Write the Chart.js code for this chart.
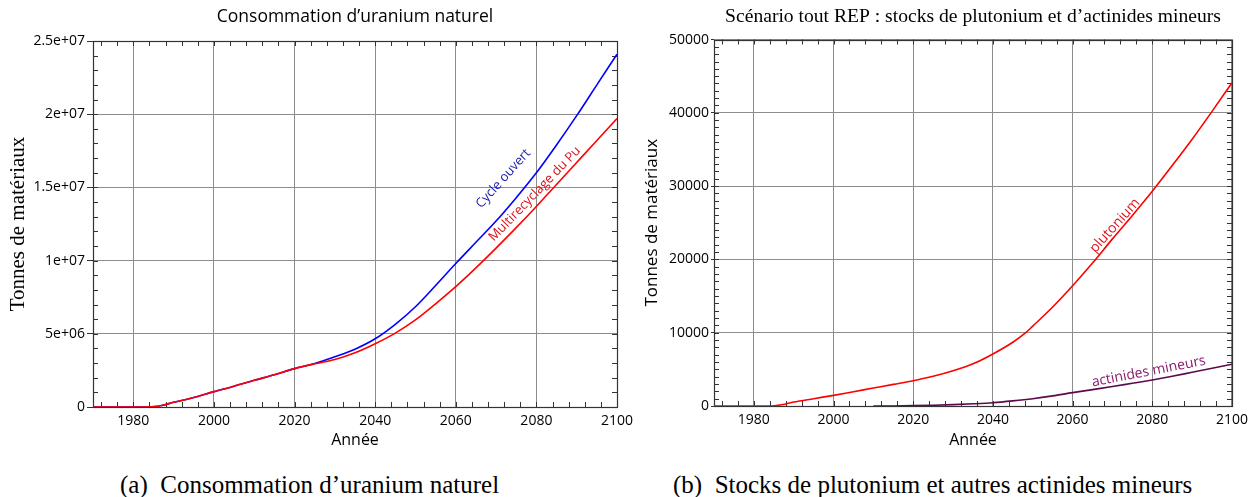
<!DOCTYPE html>
<html><head><meta charset="utf-8">
<script src="https://cdn.jsdelivr.net/npm/chart.js@4/dist/chart.umd.min.js"></script>
<style>
html,body{margin:0;padding:0;background:#fff;}
body{width:1254px;height:497px;position:relative;overflow:hidden;}
#ca{position:absolute;left:0;top:0;}
#cb{position:absolute;left:630px;top:0;}
.cap{position:absolute;top:470px;font:25px "Liberation Serif","Times New Roman",serif;color:#000;white-space:pre;line-height:30px;}
</style>
</head><body>
<canvas id="ca" width="645" height="455"></canvas>
<canvas id="cb" width="624" height="455"></canvas>
<div class="cap" style="left:120px;">(a)  Consommation d’uranium naturel</div>
<div class="cap" style="left:673px;">(b)  Stocks de plutonium et autres actinides mineurs</div>
<script>
// ---- Chart (a): uranium consumption (tonnes) ----
const yearsMulti = [1970,1980,1984,1987,1990,1995,2000,2005,2010,2015,2020,2025,2030,2035,2040,2045,2050,2055,2060,2065,2070,2075,2080,2085,2090,2095,2100];
const multirecyclage = [0,0,0,1e5,3.2e5,6.5e5,1.05e6,1.42e6,1.82e6,2.2e6,2.62e6,2.95e6,3.24e6,3.7e6,4.32e6,5.05e6,5.95e6,7.05e6,8.22e6,9.5e6,1.085e7,1.225e7,1.37e7,1.52e7,1.67e7,1.82e7,1.97e7];
const yearsOuvert = [1970,1980,1984,1987,1990,1995,2000,2005,2010,2015,2020,2025,2030,2035,2040,2045,2050,2055,2060,2065,2070,2075,2080,2085,2090,2095,2100];
const cycleOuvert = [0,0,0,1e5,3.2e5,6.5e5,1.05e6,1.42e6,1.82e6,2.2e6,2.62e6,2.97e6,3.43e6,3.95e6,4.66e6,5.65e6,6.85e6,8.3e6,9.8e6,1.125e7,1.27e7,1.43e7,1.6e7,1.79e7,1.99e7,2.2e7,2.41e7];
const yTickLabelsA = ['0','5e+06','1e+07','1.5e+07','2e+07','2.5e+07'];

// ---- Chart (b): plutonium & minor actinides stocks (tonnes) ----
const yearsPu = [1970,1984,1987,1990,1995,2000,2005,2010,2015,2020,2025,2030,2035,2040,2045,2048,2050,2055,2060,2065,2070,2075,2080,2085,2090,2095,2100];
const plutonium = [0,0,180,540,1000,1450,1950,2450,2950,3450,4050,4800,5750,7100,8700,9900,10900,13500,16400,19500,22800,26000,29300,32800,36400,40200,44100];
const yearsAm = [2010,2015,2020,2025,2030,2035,2040,2045,2050,2055,2060,2065,2070,2075,2080,2085,2090,2095,2100];
const actinides = [0,10,45,100,190,300,450,700,1000,1380,1820,2230,2650,3100,3550,4050,4600,5150,5700];
const yTickLabelsB = ['0','10000','20000','30000','40000','50000'];

const xTickLabels = ['1980','2000','2020','2040','2060','2080','2100'];

const SANS = '"Open Sans","Noto Sans",sans-serif';
const SERIF = '"Liberation Serif","Times New Roman",serif';

function pts(xs, ys){ return xs.map((x,i)=>({x:x, y:ys[i]})); }

const frameTicks = {
  id:'frameTicks',
  beforeDatasetsDraw(chart, args, o){
    const {ctx, chartArea:a, scales:{x,y}} = chart;
    const al = v => Math.round(v)+0.5;
    ctx.save();
    ctx.strokeStyle = o.color; ctx.lineWidth = 1;
    ctx.beginPath();
    for (let v = o.xStart; v <= x.max; v += o.xStep){
      const px = al(x.getPixelForValue(v));
      ctx.moveTo(px, a.top); ctx.lineTo(px, a.top+o.len);
      ctx.moveTo(px, a.bottom); ctx.lineTo(px, a.bottom-o.len);
    }
    for (let v = y.min; v <= y.max; v += o.yStep){
      const py = al(y.getPixelForValue(v));
      ctx.moveTo(a.left, py); ctx.lineTo(a.left+o.len, py);
      ctx.moveTo(a.right, py); ctx.lineTo(a.right-o.len, py);
    }
    ctx.stroke();
    ctx.lineWidth = 1.2;
    ctx.strokeRect(al(a.left), al(a.top), Math.round(a.right)-Math.round(a.left), Math.round(a.bottom)-Math.round(a.top));
    ctx.restore();
  }
};

const curveLabels = {
  id:'curveLabels',
  afterDatasetsDraw(chart, args, o){
    const {ctx, scales:{x,y}} = chart;
    (o.items||[]).forEach(it=>{
      ctx.save();
      ctx.translate(x.getPixelForValue(it.x), y.getPixelForValue(it.y));
      ctx.rotate(it.angle*Math.PI/180);
      ctx.font = it.font; ctx.fillStyle = it.color;
      ctx.textAlign='center'; ctx.textBaseline='middle';
      ctx.fillText(it.text, 0, 0);
      ctx.restore();
    });
  }
};

function makeChart(id, cfg){
  return new Chart(document.getElementById(id), {
    type:'line',
    data:{datasets:cfg.datasets},
    plugins:[frameTicks, curveLabels],
    options:{
      responsive:false, animation:false, devicePixelRatio:1,
      layout:{padding:{left:0,right:cfg.padRight,top:0,bottom:0}},
      elements:{point:{radius:0}, line:{cubicInterpolationMode:'monotone', borderWidth:1.6}},
      plugins:{
        legend:{display:false}, tooltip:{enabled:false},
        title:{display:true, text:cfg.title, fullSize:false, color:'#000',
          font:cfg.titleFont, padding:cfg.titlePad},
        frameTicks:cfg.frame,
        curveLabels:{items:cfg.labels}
      },
      scales:{
        x:{type:'linear', min:1970, max:2100,
          afterFit:s=>{s.height = cfg.xHeight;},
          border:{display:false},
          grid:{color:'#8c8c8c', lineWidth:1, drawTicks:false},
          ticks:{stepSize:20, includeBounds:false, color:'#000', padding:6, maxRotation:0,
            font:{family:SANS, size:14},
            callback:(v)=>{ const s=String(v); return xTickLabels.includes(s)?s:''; }},
          title:{display:true, text:'Année', color:'#000', font:{family:SANS,size:16}, padding:{top:0,bottom:5}}
        },
        y:{type:'linear', min:0, max:cfg.yMax,
          afterFit:s=>{s.width = cfg.yWidth;},
          border:{display:false},
          grid:{color:'#8c8c8c', lineWidth:1, drawTicks:true, tickLength:cfg.yTickLen, tickColor:'#333'},
          ticks:{stepSize:cfg.yMax/5, color:'#000', padding:2, font:{family:SANS, size:14},
            callback:(v,i)=>cfg.yLabels[i]},
          title:{display:true, text:'Tonnes de matériaux', color:'#000', font:cfg.yTitleFont, padding:{top:cfg.yTitlePad,bottom:0}}
        }
      }
    }
  });
}

makeChart('ca', {
  title:'Consommation d’uranium naturel',
  titleFont:{family:SANS, size:17.5, weight:'normal'},
  titlePad:{top:7, bottom:13},
  padRight:28, xHeight:48, yWidth:93, yMax:2.5e7, yLabels:yTickLabelsA, yTickLen:6,
  yTitleFont:{family:SERIF, size:21}, yTitlePad:6,
  frame:{color:'#333', len:5, xStart:1972, xStep:4, yStep:1e6},
  datasets:[
    {data:pts(yearsMulti, multirecyclage), borderColor:'#ff0000'},
    {data:pts(yearsOuvert, cycleOuvert), borderColor:'#0000ff'}
  ],
  labels:[
    {text:'Cycle ouvert', x:2071.8, y:1.56e7, angle:-48, color:'#1a1ab0', font:'13px '+SANS},
    {text:'Multirecyclage du Pu', x:2079.6, y:1.455e7, angle:-46, color:'#d8141e', font:'13px '+SANS}
  ]
});

makeChart('cb', {
  title:'Scénario tout REP : stocks de plutonium et d’actinides mineurs',
  titleFont:{family:SERIF, size:19.6, weight:'normal'},
  titlePad:{top:5, bottom:11},
  padRight:16, xHeight:49, yWidth:84, yMax:50000, yLabels:yTickLabelsB, yTickLen:3,
  yTitleFont:{family:SANS, size:17}, yTitlePad:12,
  frame:{color:'#333', len:5, xStart:1972, xStep:4, yStep:1000},
  datasets:[
    {data:pts(yearsPu, plutonium), borderColor:'#ff0000'},
    {data:pts(yearsAm, actinides), borderColor:'#5c0a4c'}
  ],
  labels:[
    {text:'plutonium', x:2070.6, y:24600, angle:-48, color:'#e0141e', font:'14px '+SANS},
    {text:'actinides mineurs', x:2079.1, y:4700, angle:-11, color:'#8a1a6e', font:'14px '+SANS}
  ]
});
</script>
</body></html>
